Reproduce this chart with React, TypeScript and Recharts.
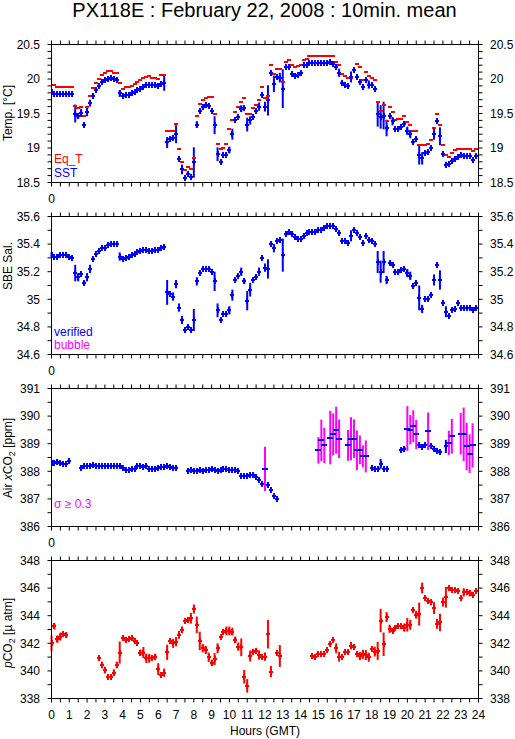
import React from "react";
import { ComposedChart, Scatter, ErrorBar, XAxis, YAxis, Legend } from "recharts";

const BLUE = "#0000ff";
const RED = "#ff0000";
const MAGENTA = "#ff00ff";
const FONT = "'Liberation Sans', Arial, Helvetica, sans-serif";

// 10 minute slots, 00:00 .. 23:50 GMT
const hours = Array.from({ length: 144 }, (_, i) => i / 6);
const hourLabels = [0, 1, 2, 3, 4, 5, 6, 7, 8, 9, 10, 11, 12, 13, 14, 15, 16, 17, 18, 19, 20, 21, 22, 23, 24];

const tempLabels = [18.5, 19, 19.5, 20, 20.5];
const salLabels = [34.6, 34.8, 35, 35.2, 35.4, 35.6];
const airLabels = [386, 387, 388, 389, 390, 391];
const pco2Labels = [338, 340, 342, 344, 346, 348];

// equilibrator temperature
const eqT = [
  19.92, 19.92, 19.89, 19.89, 19.89, 19.89, 19.88, 19.88, 19.61, 19.58, 19.59, 19.47,
  19.6, 19.75, 19.87, 19.94, 20.0, 20.06, 20.09, 20.11, 20.12, 20.09, 20.09, 19.94,
  19.86, 19.88, 19.88, 19.9, 19.93, 19.96, 19.99, 20.02, 20.03, 20.04, 20.02, 20.02,
  20.0, 20.06, 20.06, 19.25, 19.24, 19.24, 19.35, 18.98, 18.8, 18.68, 18.73, 18.7,
  18.86, 19.46, 19.64, 19.7, 19.73, 19.74, 19.74, 19.49, 19.06, 18.99, 19.0, 19.06,
  19.28, 19.4, 19.52, 19.6, 19.67, 19.73, 19.49, 19.5, 19.58, 19.63, 19.69, 19.88,
  19.73, 19.76, 20.2, 20.07, 20.15, 20.15, 19.95, 20.25, 20.28, 20.2, 20.18, 20.19,
  20.2, 20.27, 20.29, 20.33, 20.33, 20.33, 20.33, 20.33, 20.33, 20.33, 20.34, 20.33,
  20.25, 20.21, 20.07, 20.04, 20.02, 20.02, 20.13, 20.22, 20.17, 19.99, 20.1, 20.05,
  20.02, 19.99, 19.66, 19.53, 19.63, 19.39, 19.59, 19.52, 19.4, 19.42, 19.42, 19.47,
  19.37, 19.33, 19.24, 19.24, 19.05, 19.05, 19.05, 19.06, 19.11, 19.29, 19.5, 19.33,
  19.04, 18.9, 18.87, 18.93, 18.97, 18.99, 18.99, 18.99, 18.98, 18.99, 18.95, 18.98,
];

// sea surface temperature
const sst = [
  19.81, 19.78, 19.78, 19.78, 19.78, 19.78, 19.78, 19.78, 19.5, 19.46, 19.51, 19.34,
  19.52, 19.65, 19.76, 19.84, 19.9, 19.95, 19.98, 20.0, 20.01, 20.0, 19.98, 19.79,
  19.75, 19.77, 19.77, 19.79, 19.81, 19.84, 19.86, 19.89, 19.92, 19.92, 19.91, 19.91,
  19.9, 19.93, 19.94, 19.08, 19.13, 19.14, 19.2, 18.84, 18.69, 18.57, 18.62, 18.58,
  18.79, 19.34, 19.54, 19.59, 19.62, 19.61, 19.54, 19.33, 18.91, 18.79, 18.9, 18.9,
  18.97, 19.2, 19.4, 19.45, 19.57, 19.58, 19.34, 19.4, 19.45, 19.53, 19.6, 19.77,
  19.6, 19.69, 20.08, 19.93, 20.03, 20.02, 19.86, 20.17, 20.18, 20.07, 20.05, 20.06,
  20.08, 20.2, 20.21, 20.23, 20.23, 20.23, 20.23, 20.23, 20.23, 20.23, 20.24, 20.22,
  20.17, 20.09, 19.94, 19.92, 19.9, 20.03, 20.13, 20.03, 19.96, 19.89, 19.99, 19.92,
  19.91, 19.86, 19.49, 19.45, 19.47, 19.29, 19.47, 19.39, 19.28, 19.28, 19.31, 19.35,
  19.25, 19.2, 19.09, 19.13, 18.9, 18.85, 18.93, 18.94, 19.0, 19.2, 19.39, 19.17,
  18.91, 18.76, 18.77, 18.81, 18.84, 18.87, 18.9, 18.88, 18.88, 18.88, 18.83, 18.88,
];
// std dev by slot (slots not listed are tiny)
const sstErr: Record<number, number> = {
  8: 0.13, 9: 0.04, 10: 0.06, 11: 0.03, 12: 0.06, 13: 0.05, 23: 0.05, 38: 0.11, 39: 0.08,
  40: 0.03, 42: 0.13, 43: 0.04, 44: 0.07, 48: 0.22, 49: 0.05, 55: 0.13, 56: 0.1, 60: 0.05,
  61: 0.08, 64: 0.05, 66: 0.1, 67: 0.06, 70: 0.06, 72: 0.07, 73: 0.22, 75: 0.12, 77: 0.07,
  78: 0.28, 97: 0.06, 101: 0.08, 107: 0.06, 110: 0.18, 111: 0.17, 112: 0.2, 113: 0.12,
  115: 0.06, 120: 0.06, 121: 0.06, 124: 0.14, 125: 0.09, 129: 0.08, 131: 0.13, 133: 0.04,
};

// SBE salinity
const sal = [
  35.32, 35.31, 35.31, 35.32, 35.32, 35.32, 35.31, 35.3, 35.19, 35.16, 35.18, 35.12,
  35.16, 35.22, 35.29, 35.33, 35.35, 35.37, 35.37, 35.39, 35.4, 35.4, 35.4, 35.31,
  35.29, 35.3, 35.31, 35.32, 35.33, 35.34, 35.35, 35.36, 35.36, 35.35, 35.35, 35.36,
  35.36, 35.37, 35.38, 35.05, 35.04, 35.02, 35.11, 34.94, 34.85, 34.78, 34.8, 34.78,
  34.85, 35.13, 35.19, 35.22, 35.22, 35.22, 35.2, 35.13, 34.92, 34.85, 34.89, 34.89,
  34.92, 35.03, 35.14, 35.17, 35.2, 35.13, 34.99, 35.07, 35.14, 35.16, 35.2, 35.3,
  35.23, 35.22, 35.4, 35.37, 35.42, 35.43, 35.32, 35.47, 35.49, 35.47, 35.45, 35.44,
  35.44, 35.46, 35.48, 35.49, 35.49, 35.49, 35.5, 35.5, 35.52, 35.53, 35.53, 35.53,
  35.51, 35.48, 35.42, 35.42, 35.41, 35.46, 35.5, 35.48, 35.45, 35.41, 35.46, 35.43,
  35.42, 35.4, 35.27, 35.2, 35.27, 35.14, 35.26, 35.25, 35.2, 35.2, 35.21, 35.22,
  35.19, 35.17, 35.1, 35.12, 35.01, 34.93, 35.0, 35.0, 35.03, 35.14, 35.25, 35.14,
  34.97, 34.91, 34.88, 34.92, 34.93, 34.97, 34.94, 34.94, 34.94, 34.94, 34.92, 34.94,
];
const salErr: Record<number, number> = {
  0: 0.02, 8: 0.06, 9: 0.03, 11: 0.02, 12: 0.03, 13: 0.03, 23: 0.03, 39: 0.09, 41: 0.03,
  42: 0.03, 43: 0.03, 44: 0.03, 48: 0.08, 49: 0.03, 55: 0.07, 56: 0.05, 60: 0.03, 61: 0.04,
  64: 0.03, 65: 0.02, 66: 0.07, 67: 0.05, 70: 0.03, 72: 0.03, 73: 0.07, 75: 0.03, 78: 0.12,
  101: 0.04, 110: 0.08, 111: 0.08, 112: 0.08, 113: 0.03, 120: 0.03, 121: 0.03, 124: 0.09,
  125: 0.03, 129: 0.04, 131: 0.07, 133: 0.04,
};

// atmospheric xCO2
const air = [
  388.31, 388.3, 388.32, 388.3, 388.26, 388.27, 388.36, null, null, null, 388.13, 388.18,
  388.2, 388.21, 388.24, 388.21, 388.2, 388.2, 388.2, 388.19, 388.18, 388.19, 388.2, 388.18,
  388.12, 388.06, 388.06, 388.07, 388.09, 388.2, 388.18, 388.15, 388.21, 388.09, 388.09, 388.09,
  388.12, 388.15, 388.15, 388.18, 388.15, 388.13, 388.12, null, null, null, 388.0, 388.06,
  388.02, 388.0, 388.04, 388.02, 388.03, 388.04, 388.08, 388.06, 388.02, 388.06, 388.07, 388.09,
  388.06, 388.03, 388.03, 388.0, 387.83, 387.83, 387.83, 387.85, 387.86, 387.78, 387.7, 387.53,
  388.09, 387.51, 387.33, 387.09, 387.0, null, null, null, null, null, null, null,
  null, null, null, null, null, null, 388.76, 389.12, 388.94, null, 389.22, 389.34,
  389.49, 389.18, null, null, 388.94, 389.18, 389.18, 388.76, 388.78, 388.54, 388.54, null,
  388.13, 388.07, 388.09, 388.27, 388.09, 388.07, null, null, null, null, 388.76, 388.82,
  389.55, 389.51, 389.63, 389.34, 388.94, 388.88, 388.94, 389.45, 388.9, 388.82, 388.73, 388.7,
  null, 388.9, 389.03, 389.27, null, null, 389.36, 389.34, 388.9, 388.64, 388.94, null,
];
const airErr: Record<number, number> = {
  6: 0.04, 72: 0.8, 90: 0.48, 91: 0.75, 92: 0.64, 94: 0.97, 95: 0.76, 96: 0.85, 97: 0.7,
  100: 0.56, 101: 0.78, 102: 0.7, 103: 0.72, 104: 0.52, 105: 0.4, 106: 0.58, 111: 0.18,
  119: 0.06, 120: 0.81, 121: 0.53, 122: 0.58, 123: 0.53, 124: 0.06, 127: 0.68, 133: 0.24,
  134: 0.44, 135: 0.63, 138: 0.75, 139: 0.97, 140: 0.86, 141: 0.7, 142: 0.8,
};

// seawater pCO2
const pco2 = [
  342.0, 343.22, 342.3, 342.49, 342.68, 342.59, null, null, null, null, null, null,
  null, null, null, null, 340.91, 340.43, 340.06, 339.58, 339.58, 339.87, 340.43, 341.33,
  342.39, 342.25, 342.3, 342.37, 342.2, 342.0, 341.33, 341.33, 340.91, 340.91, 340.91, 341.03,
  340.13, 339.7, 339.87, 341.35, 342.17, 342.0, 342.12, 342.61, 342.98, 343.63, 343.7, 343.82,
  344.48, 343.34, 342.17, 341.64, 341.52, 340.99, 340.6, 340.86, 341.64, 342.44, 342.85, 342.9,
  342.9, 342.85, 342.25, 341.76, 341.71, 339.58, 338.92, 341.08, 341.4, 341.47, 341.15, 341.03,
  341.03, 342.66, 339.94, null, 341.33, 341.08, null, null, null, null, null, null,
  null, null, null, null, 341.08, 340.99, 341.2, 341.2, 341.2, 341.52, 341.93, 342.25,
  341.64, 341.03, 340.99, 341.4, 341.4, 341.83, 341.71, 341.23, 341.08, 341.2, 341.15, 340.99,
  341.59, 341.4, 341.45, 343.65, 341.93, 343.9, 343.05, 342.9, 343.09, 343.27, 343.27, 343.14,
  343.34, 343.34, 344.38, 344.07, 344.12, 346.01, 345.28, 345.09, 344.97, 344.55, 343.41, 343.51,
  344.99, 345.33, 346.01, 345.89, 345.84, 345.77, 345.28, 345.69, 345.69, 345.64, 345.52, 345.77,
];
const pco2Err: Record<number, number> = {
  0: 0.57, 1: 0.22, 2: 0.27, 3: 0.29, 5: 0.18, 16: 0.2, 17: 0.24, 18: 0.24, 21: 0.24, 22: 0.24,
  23: 0.8, 28: 0.2, 30: 0.22, 31: 0.4, 32: 0.34, 33: 0.32, 35: 0.22, 36: 0.43, 38: 0.3, 39: 0.55,
  41: 0.33, 42: 0.34, 43: 0.28, 44: 0.24, 47: 0.39, 48: 0.33, 49: 0.6, 50: 0.67, 51: 0.3, 52: 0.3,
  53: 0.34, 54: 0.22, 55: 0.43, 56: 0.36, 59: 0.32, 60: 0.32, 61: 0.28, 62: 0.24, 63: 0.3,
  64: 0.64, 65: 0.5, 66: 0.49, 67: 0.4, 69: 0.2, 70: 0.34, 72: 0.3, 73: 1.04, 74: 0.41, 77: 0.79,
  96: 0.36, 97: 0.36, 101: 0.27, 104: 0.3, 105: 0.34, 106: 0.36, 107: 0.33, 109: 0.36, 110: 0.65,
  111: 0.85, 112: 0.85, 113: 0.36, 114: 0.3, 119: 0.3, 120: 0.49, 121: 0.36, 123: 0.28,
  124: 0.83, 125: 0.39, 128: 0.22, 129: 0.43, 130: 0.36, 131: 0.63, 132: 0.33, 133: 0.75,
  139: 0.3, 141: 0.24,
};

type Pt = { h: number; v: number; e: number };

const toPoints = (vals: (number | null)[], errs: Record<number, number> = {}): Pt[] =>
  vals.flatMap((v, i) => (v == null ? [] : [{ h: hours[i], v, e: errs[i] ?? 0 }]));

const seq = (lo: number, hi: number, step: number) => {
  const out: number[] = [];
  for (let k = 0; lo + k * step <= hi + 1e-9; k++) out.push(Math.round((lo + k * step) * 1000) / 1000);
  return out;
};

const hourTicks = seq(0, 24, 0.5);

const eqTPts = toPoints(eqT);
const sstPts = toPoints(sst, sstErr);
const salPts = toPoints(sal, salErr);
const airPts = toPoints(air, airErr);
const airOk = airPts.filter((p) => p.e < 0.3);
const airBubble = airPts.filter((p) => p.e >= 0.3);
const pco2Pts = toPoints(pco2, pco2Err);

// marker shapes, snapped to the pixel grid so they stay crisp like the original bitmap
const dash = (color: string, hw: number) => (p: any) => {
  const x = Math.round(p.cx);
  const y = Math.round(p.cy);
  return (
    <line x1={x - hw} x2={x + hw} y1={y} y2={y} stroke={color} strokeWidth={2} shapeRendering="crispEdges" />
  );
};
const plus = (color: string) => (p: any) => {
  const x = Math.round(p.cx);
  const y = Math.round(p.cy);
  return (
    <g shapeRendering="crispEdges">
      <line x1={x - 2} x2={x + 2} y1={y} y2={y} stroke={color} strokeWidth={2} />
      <line x1={x} x2={x} y1={y - 3} y2={y + 3} stroke={color} strokeWidth={2} />
    </g>
  );
};

const EmptyTick = () => <g />;

const NumTick = ({ x, y, payload, textAnchor, labels }: any) =>
  labels.includes(payload.value) ? (
    <text x={x} y={y} dy="0.36em" textAnchor={textAnchor} fontSize={12} fontFamily={FONT} fill="#000">
      {payload.value}
    </text>
  ) : (
    <g />
  );

const HourTick = ({ x, y, payload, all }: any) => {
  const v = payload.value;
  const show = hourLabels.includes(v) && (all || v === 0);
  return show ? (
    <text x={x} y={y} dy="0.71em" textAnchor="middle" fontSize={12} fontFamily={FONT} fill="#000">
      {v}
    </text>
  ) : (
    <g />
  );
};

const SideLabel = ({ body, cy }: any) => (
  <text
    x={12}
    y={cy}
    transform={`rotate(-90 12 ${cy})`}
    textAnchor="middle"
    fontSize={12}
    fontFamily={FONT}
    fill="#000"
  >
    {body}
  </text>
);

type LegendItem = { text: string; color: string };

type PanelProps = {
  top: number;
  height: number;
  bottomAxis: number;
  domain: [number, number];
  ticks: number[];
  labels: number[];
  yLabel: React.ReactNode;
  yLabelY: number;
  allHours?: boolean;
  legend: LegendItem[];
  legendTop: number;
  legendLine: number;
  children: React.ReactNode;
};

const Panel = (props: PanelProps) => {
  const { top, height, bottomAxis, domain, ticks, labels, yLabel, yLabelY, allHours, legend, legendTop, legendLine } = props;
  return (
    <div style={{ position: "absolute", left: 0, top }}>
      <ComposedChart width={515} height={height} margin={{ top: 4.5, right: 0, bottom: 0.5, left: 0 }}>
        <XAxis
          xAxisId="t"
          orientation="top"
          type="number"
          dataKey="h"
          domain={[0, 24]}
          ticks={hourTicks}
          interval={0}
          tick={EmptyTick}
          tickSize={4}
          height={20}
          stroke="#000"
          allowDataOverflow
        />
        <XAxis
          xAxisId="b"
          orientation="bottom"
          type="number"
          dataKey="h"
          domain={[0, 24]}
          ticks={hourTicks}
          interval={0}
          tick={(p: any) => <HourTick {...p} all={allHours} />}
          tickSize={4}
          tickMargin={8}
          height={bottomAxis}
          stroke="#000"
          allowDataOverflow
          label={
            allHours
              ? { value: "Hours (GMT)", position: "insideBottom", offset: 4, fontSize: 12, fontFamily: FONT, fill: "#000" }
              : undefined
          }
        />
        <YAxis
          yAxisId="l"
          orientation="left"
          type="number"
          domain={domain}
          ticks={ticks}
          interval={0}
          width={51.5}
          tickSize={4}
          tickMargin={7.5}
          tick={(p: any) => <NumTick {...p} labels={labels} />}
          stroke="#000"
          allowDataOverflow
          label={<SideLabel body={yLabel} cy={yLabelY} />}
        />
        <YAxis
          yAxisId="r"
          orientation="right"
          type="number"
          domain={domain}
          ticks={ticks}
          interval={0}
          width={36.5}
          tickSize={4}
          tickMargin={7.5}
          tick={(p: any) => <NumTick {...p} labels={labels} />}
          stroke="#000"
          allowDataOverflow
        />
        {props.children}
        <Legend
          layout="horizontal"
          verticalAlign="middle"
          align="center"
          wrapperStyle={{ position: "absolute", left: 54, top: legendTop, width: "auto", height: "auto", margin: 0 }}
          content={() => (
            <div style={{ fontFamily: FONT, fontSize: 12, lineHeight: `${legendLine}px` }}>
              {legend.map((it) => (
                <div key={it.text} style={{ color: it.color }}>
                  {it.text}
                </div>
              ))}
            </div>
          )}
        />
      </ComposedChart>
    </div>
  );
};

const App = () => (
  <div
    style={{
      position: "absolute",
      left: 0,
      top: 0,
      width: 515,
      height: 739,
      background: "#fff",
      overflow: "hidden",
      fontFamily: FONT,
    }}
  >
    <div
      style={{
        position: "absolute",
        left: 7,
        top: 0,
        width: 515,
        textAlign: "center",
        fontSize: 20,
        lineHeight: "20px",
        color: "#000",
      }}
    >
      PX118E : February 22, 2008 : 10min. mean
    </div>

    <Panel
      top={20}
      height={189}
      bottomAxis={26}
      domain={[18.5, 20.5]}
      ticks={seq(18.5, 20.5, 0.1)}
      labels={tempLabels}
      yLabel="Temp. [°C]"
      yLabelY={93}
      legend={[
        { text: "Eq_T", color: RED },
        { text: "SST", color: BLUE },
      ]}
      legendTop={132}
      legendLine={14}
    >
      <Scatter xAxisId="b" yAxisId="l" data={eqTPts} dataKey="v" shape={dash(RED, 2)} isAnimationActive={false} />
      <Scatter xAxisId="b" yAxisId="l" data={sstPts} dataKey="v" shape={plus(BLUE)} isAnimationActive={false}>
        <ErrorBar dataKey="e" direction="y" width={0} stroke={BLUE} strokeWidth={2} isAnimationActive={false} />
      </Scatter>
    </Panel>

    <Panel
      top={192}
      height={189}
      bottomAxis={26}
      domain={[34.6, 35.6]}
      ticks={seq(34.6, 35.6, 0.1)}
      labels={salLabels}
      yLabel="SBE Sal."
      yLabelY={74}
      legend={[
        { text: "verified", color: BLUE },
        { text: "bubble", color: MAGENTA },
      ]}
      legendTop={134}
      legendLine={13}
    >
      <Scatter xAxisId="b" yAxisId="l" data={salPts} dataKey="v" shape={plus(BLUE)} isAnimationActive={false}>
        <ErrorBar dataKey="e" direction="y" width={0} stroke={BLUE} strokeWidth={2} isAnimationActive={false} />
      </Scatter>
    </Panel>

    <Panel
      top={364}
      height={189}
      bottomAxis={26}
      domain={[386, 391]}
      ticks={seq(386, 391, 0.5)}
      labels={airLabels}
      yLabel={
        <>
          <tspan>Air </tspan>
          <tspan fontStyle="italic">x</tspan>
          <tspan>CO</tspan>
          <tspan fontSize={9} dy={3}>2</tspan>
          <tspan dy={-3}> [ppm]</tspan>
        </>
      }
      yLabelY={94}
      legend={[{ text: "σ ≥ 0.3", color: MAGENTA }]}
      legendTop={133}
      legendLine={14}
    >
      <Scatter xAxisId="b" yAxisId="l" data={airOk} dataKey="v" shape={plus(BLUE)} isAnimationActive={false}>
        <ErrorBar dataKey="e" direction="y" width={0} stroke={BLUE} strokeWidth={2} isAnimationActive={false} />
      </Scatter>
      <Scatter xAxisId="b" yAxisId="l" data={airBubble} dataKey="v" shape={dash(BLUE, 3)} isAnimationActive={false}>
        <ErrorBar dataKey="e" direction="y" width={0} stroke={MAGENTA} strokeWidth={2} isAnimationActive={false} />
      </Scatter>
    </Panel>

    <Panel
      top={536}
      height={203}
      bottomAxis={40}
      domain={[338, 348]}
      ticks={seq(338, 348, 1)}
      labels={pco2Labels}
      yLabel={
        <>
          <tspan fontStyle="italic">p</tspan>
          <tspan>CO</tspan>
          <tspan fontSize={9} dy={3}>2</tspan>
          <tspan dy={-3}> [µ atm]</tspan>
        </>
      }
      yLabelY={97}
      allHours
      legend={[]}
      legendTop={133}
      legendLine={14}
    >
      <Scatter xAxisId="b" yAxisId="l" data={pco2Pts} dataKey="v" shape={plus(RED)} isAnimationActive={false}>
        <ErrorBar dataKey="e" direction="y" width={0} stroke={RED} strokeWidth={2} isAnimationActive={false} />
      </Scatter>
    </Panel>
  </div>
);

export default App;
